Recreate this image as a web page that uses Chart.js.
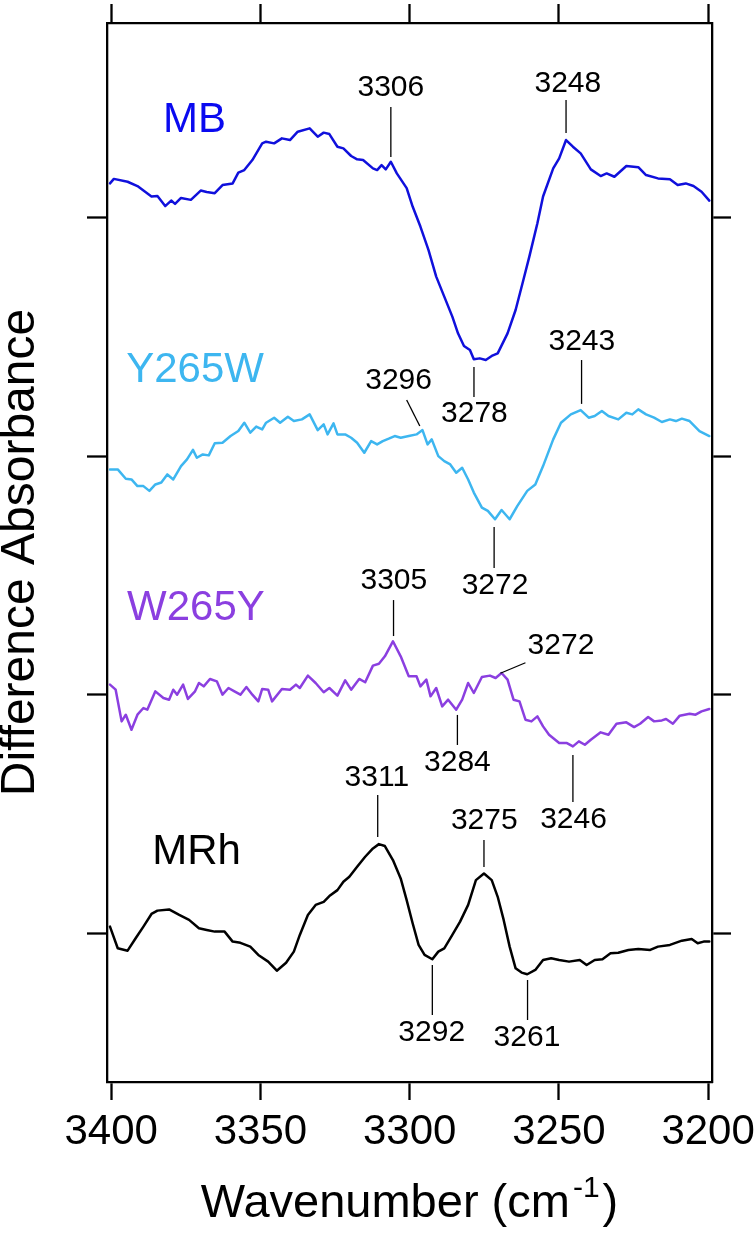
<!DOCTYPE html>
<html><head><meta charset="utf-8">
<script src="https://cdn.jsdelivr.net/npm/chart.js@4.4.1/dist/chart.umd.min.js"></script>
<style>html,body{margin:0;padding:0;background:#fff}canvas{display:block}</style>
</head><body>
<canvas id="c" width="755" height="1236"></canvas>
<script>
// ---------- data (wavenumber cm-1, difference absorbance, arbitrary units) ----------
const xTickValues = [3400, 3350, 3300, 3250, 3200];
const yTickValues = [0, 1, 2, 3];
const seriesNames = ['MB', 'Y265W', 'W265Y', 'MRh'];
const seriesOffsets = [3, 2, 1, 0];

const MB = [[3400.4,0.145],[3399.1,0.164],[3394.5,0.152],[3391.2,0.134],[3386.5,0.090],[3384.5,0.092],[3381.9,0.050],[3379.9,0.073],[3378.6,0.059],[3376.6,0.084],[3373.3,0.076],[3370.0,0.115],[3368.0,0.109],[3365.3,0.104],[3362.7,0.138],[3359.3,0.145],[3357.4,0.190],[3355.4,0.201],[3352.7,0.243],[3349.4,0.313],[3348.1,0.320],[3345.4,0.313],[3342.8,0.334],[3340.1,0.327],[3337.5,0.362],[3333.5,0.376],[3330.8,0.341],[3328.8,0.358],[3326.9,0.352],[3324.2,0.299],[3322.2,0.292],[3319.6,0.260],[3317.6,0.246],[3315.6,0.243],[3312.3,0.208],[3310.9,0.201],[3309.4,0.222],[3308.0,0.204],[3306.3,0.236],[3304.3,0.187],[3301.0,0.125],[3299.0,0.048],[3296.4,-0.036],[3293.7,-0.134],[3291.1,-0.246],[3288.4,-0.330],[3285.7,-0.414],[3283.8,-0.484],[3281.8,-0.537],[3279.8,-0.554],[3278.5,-0.593],[3276.5,-0.589],[3274.5,-0.596],[3272.5,-0.579],[3270.5,-0.568],[3267.2,-0.484],[3264.5,-0.386],[3261.9,-0.260],[3259.9,-0.162],[3257.2,-0.022],[3255.3,0.090],[3251.9,0.208],[3249.9,0.250],[3247.6,0.327],[3245.3,0.299],[3242.7,0.271],[3239.3,0.204],[3236.0,0.176],[3234.0,0.187],[3231.4,0.173],[3227.4,0.218],[3223.4,0.213],[3220.8,0.180],[3216.8,0.166],[3212.8,0.162],[3210.2,0.138],[3207.5,0.145],[3204.9,0.134],[3202.2,0.110],[3199.6,0.073]];

const Y265W = [[3400.4,-0.055],[3397.8,-0.055],[3395.1,-0.094],[3393.2,-0.097],[3391.2,-0.125],[3389.2,-0.125],[3387.2,-0.145],[3385.2,-0.118],[3383.2,-0.110],[3381.2,-0.076],[3379.2,-0.097],[3376.6,-0.041],[3374.6,-0.013],[3372.6,0.027],[3371.3,-0.006],[3369.3,0.008],[3367.3,0.004],[3365.3,0.055],[3362.7,0.057],[3360.0,0.085],[3357.4,0.106],[3355.4,0.141],[3353.4,0.099],[3351.4,0.125],[3349.4,0.113],[3348.1,0.141],[3345.4,0.162],[3343.4,0.141],[3340.8,0.166],[3338.8,0.148],[3336.1,0.155],[3333.5,0.176],[3330.8,0.110],[3328.8,0.134],[3327.5,0.092],[3325.5,0.138],[3324.2,0.092],[3321.6,0.092],[3319.6,0.078],[3317.6,0.057],[3315.2,0.015],[3312.9,0.064],[3310.9,0.050],[3309.0,0.064],[3307.0,0.074],[3305.0,0.085],[3303.0,0.078],[3300.3,0.085],[3297.7,0.092],[3295.7,0.110],[3294.0,0.050],[3292.6,0.071],[3290.4,0.001],[3288.4,-0.020],[3286.4,-0.034],[3284.4,-0.069],[3282.4,-0.048],[3280.4,-0.097],[3278.5,-0.152],[3275.8,-0.215],[3273.8,-0.229],[3271.4,-0.264],[3269.2,-0.225],[3266.5,-0.264],[3263.9,-0.208],[3260.6,-0.145],[3257.9,-0.118],[3255.3,-0.041],[3251.9,0.071],[3249.3,0.141],[3246.0,0.176],[3242.7,0.194],[3240.0,0.162],[3238.0,0.169],[3235.6,0.190],[3233.4,0.169],[3230.1,0.155],[3227.4,0.183],[3225.4,0.176],[3223.4,0.197],[3220.8,0.176],[3218.1,0.162],[3215.5,0.144],[3212.8,0.155],[3210.8,0.148],[3208.8,0.158],[3206.2,0.148],[3202.9,0.106],[3199.6,0.085]];

const W265Y = [[3400.4,0.042],[3398.5,0.021],[3396.5,-0.112],[3395.1,-0.084],[3393.2,-0.147],[3391.2,-0.084],[3389.2,-0.056],[3387.9,-0.063],[3385.2,0.014],[3382.5,-0.014],[3380.6,-0.021],[3379.2,0.021],[3377.9,0.000],[3375.9,0.042],[3374.3,-0.018],[3371.9,0.014],[3370.6,0.049],[3369.0,0.035],[3366.9,0.066],[3364.6,0.056],[3362.7,0.000],[3360.7,0.028],[3358.7,0.014],[3356.7,0.000],[3354.7,0.032],[3352.7,0.000],[3350.7,-0.028],[3349.4,0.024],[3347.4,0.021],[3346.1,-0.028],[3342.8,0.024],[3340.1,0.021],[3338.1,0.042],[3336.8,0.028],[3334.1,0.080],[3331.5,0.049],[3328.8,0.010],[3326.9,0.028],[3324.2,-0.004],[3321.6,0.060],[3319.6,0.021],[3316.9,0.066],[3314.9,0.052],[3312.3,0.122],[3310.3,0.130],[3308.3,0.161],[3305.6,0.224],[3303.0,0.161],[3300.3,0.077],[3297.7,0.077],[3296.4,0.035],[3294.4,0.063],[3293.0,-0.007],[3291.1,0.028],[3289.1,-0.049],[3287.1,-0.021],[3284.4,-0.063],[3282.4,-0.021],[3280.4,0.049],[3278.5,0.007],[3275.8,0.074],[3273.1,0.080],[3271.2,0.070],[3269.2,0.091],[3267.2,0.063],[3265.2,-0.021],[3263.2,-0.028],[3261.2,-0.105],[3259.2,-0.112],[3257.2,-0.091],[3255.3,-0.133],[3253.3,-0.168],[3249.9,-0.203],[3247.3,-0.203],[3245.3,-0.217],[3243.3,-0.196],[3241.3,-0.210],[3239.3,-0.189],[3236.0,-0.158],[3233.4,-0.168],[3230.7,-0.122],[3227.4,-0.116],[3224.8,-0.136],[3222.8,-0.122],[3220.1,-0.094],[3218.1,-0.112],[3215.5,-0.108],[3214.1,-0.102],[3211.8,-0.122],[3209.5,-0.088],[3206.2,-0.080],[3204.2,-0.084],[3202.2,-0.070],[3199.6,-0.060]];

const MRh = [[3400.4,0.027],[3397.8,-0.064],[3394.5,-0.074],[3391.8,-0.022],[3389.2,0.027],[3386.5,0.080],[3384.5,0.094],[3380.6,0.099],[3377.2,0.076],[3373.9,0.055],[3370.6,0.020],[3368.0,0.013],[3365.3,0.006],[3362.0,0.006],[3359.3,-0.036],[3356.7,-0.041],[3353.4,-0.057],[3350.7,-0.092],[3347.4,-0.120],[3344.5,-0.158],[3341.4,-0.125],[3338.8,-0.078],[3336.8,-0.008],[3334.1,0.076],[3331.5,0.118],[3328.8,0.131],[3326.9,0.155],[3324.2,0.180],[3322.2,0.215],[3320.2,0.236],[3317.6,0.278],[3314.9,0.320],[3312.3,0.355],[3310.3,0.373],[3308.3,0.365],[3305.6,0.306],[3303.0,0.229],[3301.0,0.138],[3299.0,0.041],[3297.0,-0.050],[3295.0,-0.092],[3292.4,-0.110],[3290.4,-0.078],[3288.4,-0.064],[3285.7,-0.008],[3283.1,0.048],[3280.4,0.118],[3277.8,0.222],[3275.1,0.250],[3272.5,0.222],[3270.5,0.152],[3268.5,0.055],[3266.5,-0.057],[3264.5,-0.148],[3262.5,-0.166],[3260.6,-0.173],[3257.9,-0.155],[3255.3,-0.113],[3252.6,-0.106],[3249.9,-0.113],[3246.6,-0.120],[3243.0,-0.113],[3240.7,-0.134],[3238.0,-0.113],[3235.4,-0.110],[3232.7,-0.085],[3230.1,-0.083],[3226.7,-0.071],[3223.4,-0.067],[3219.4,-0.071],[3216.8,-0.057],[3212.8,-0.050],[3208.8,-0.032],[3205.5,-0.025],[3203.5,-0.043],[3201.5,-0.036],[3199.6,-0.036]];

const seriesData = [MB, Y265W, W265Y, MRh];
const seriesColors = ['#1010DC', '#3DB6F0', '#8B3FE0', '#000000'];
const labelColors  = ['#0A0AF0', '#3DB6F0', '#8B3FE0', '#000000'];

// series name labels: [wavenumber centre, y value]
const seriesLabelPos = [[3372.1, 3.411], [3371.9, 2.361], [3371.6, 1.363], [3371.4, 0.338]];

// peak annotations: text, text centre (wn, y), leader line (wn1, y1, wn2, y2)
const peakLabels = ['3306', '3248', '3278', '3243', '3296', '3272', '3305', '3272', '3284', '3246', '3311', '3275', '3292', '3261'];
const peakTextPos = [[3306.3,3.548],[3247.0,3.562],[3278.3,2.178],[3242.3,2.480],[3303.7,2.316],[3271.4,1.456],[3305.3,1.477],[3249.3,1.204],[3284.0,0.713],[3245.1,0.474],[3311.0,0.650],[3275.0,0.470],[3292.6,-0.420],[3260.7,-0.441]];
const peakLeaders = [[3306.3,3.466,3306.3,3.256],[3247.6,3.495,3247.6,3.356],[3278.45,2.375,3278.45,2.249],[3242.4,2.404,3242.4,2.220],[3301.0,2.236,3296.6,2.127],[3271.7,1.704,3271.7,1.531],[3305.4,1.397,3305.4,1.246],[3261.2,1.134,3269.6,1.090],[3284.0,0.915,3284.0,0.789],[3245.3,0.747,3245.3,0.550],[3310.7,0.579,3310.7,0.403],[3275.1,0.390,3275.1,0.277],[3292.4,-0.134,3292.4,-0.344],[3260.5,-0.197,3260.5,-0.365]];

const xTitleMain = 'Wavenumber (cm';
const xTitleSup = '-1';
const xTitleEnd = ')';
const yTitle = 'Difference Absorbance';

const X_MIN = 3198.7, X_MAX = 3401.4;
const Y_MIN = -0.625, Y_MAX = 3.818;
const FONT = '"Liberation Sans", Arial, Helvetica, sans-serif';

// ---------- chart ----------
const datasets = seriesData.map((s, i) => ({
  label: seriesNames[i],
  data: s.map(p => ({x: p[0], y: p[1] + seriesOffsets[i]})),
  borderColor: seriesColors[i],
  borderWidth: 2.5,
  borderJoinStyle: 'round',
  borderCapStyle: 'round',
  pointRadius: 0,
  tension: 0,
  fill: false,
  xAxisID: 'x',
  yAxisID: 'y'
}));

function setTicks(vals) { return s => { s.ticks = vals.map(v => ({value: v})); }; }
const gridOpts = len => ({display: true, drawOnChartArea: false, drawTicks: true, tickLength: len, tickWidth: 2.3, tickColor: '#000'});
const borderOpts = {display: true, color: '#000', width: 2.3};
function fixSize(prop, val) {
  return s => { s[prop] = val; s.paddingLeft = 0; s.paddingRight = 0; s.paddingTop = 0; s.paddingBottom = 0; };
}

const overlay = {
  id: 'overlay',
  afterDatasetsDraw(chart) {
    const ctx = chart.ctx, xs = chart.scales.x, ys = chart.scales.y;
    ctx.save();
    // leader lines
    ctx.strokeStyle = '#000';
    ctx.lineWidth = 1.3;
    peakLeaders.forEach(l => {
      ctx.beginPath();
      ctx.moveTo(xs.getPixelForValue(l[0]), ys.getPixelForValue(l[1]));
      ctx.lineTo(xs.getPixelForValue(l[2]), ys.getPixelForValue(l[3]));
      ctx.stroke();
    });
    // peak labels
    ctx.fillStyle = '#000';
    ctx.font = '30px ' + FONT;
    ctx.textAlign = 'center';
    ctx.textBaseline = 'middle';
    peakLabels.forEach((t, i) => {
      ctx.fillText(t, xs.getPixelForValue(peakTextPos[i][0]), ys.getPixelForValue(peakTextPos[i][1]));
    });
    // series names
    ctx.font = '42px ' + FONT;
    seriesNames.forEach((n, i) => {
      ctx.fillStyle = labelColors[i];
      ctx.fillText(n, xs.getPixelForValue(seriesLabelPos[i][0]), ys.getPixelForValue(seriesLabelPos[i][1]));
    });
    // x axis title with superscript
    const fMain = '47px ' + FONT, fSup = '30px ' + FONT;
    ctx.font = fMain; const w1 = ctx.measureText(xTitleMain).width; const w3 = ctx.measureText(xTitleEnd).width;
    ctx.font = fSup; const w2 = ctx.measureText(xTitleSup).width;
    const gap = 3;
    const total = w1 + gap + w2 + gap + w3;
    const cx = (chart.chartArea.left + chart.chartArea.right) / 2;
    let x0 = cx - total / 2;
    const base = xs.bottom - 19;
    ctx.fillStyle = '#000';
    ctx.textAlign = 'left';
    ctx.textBaseline = 'alphabetic';
    ctx.font = fMain; ctx.fillText(xTitleMain, x0, base);
    ctx.font = fSup; ctx.fillText(xTitleSup, x0 + w1 + gap, base - 20);
    ctx.font = fMain; ctx.fillText(xTitleEnd, x0 + w1 + gap + w2 + gap, base);
    ctx.restore();
  }
};

new Chart(document.getElementById('c'), {
  type: 'line',
  data: {datasets},
  options: {
    responsive: false,
    animation: false,
    devicePixelRatio: 1,
    layout: {padding: 0},
    plugins: {legend: {display: false}, tooltip: {enabled: false}},
    scales: {
      x: {
        type: 'linear', position: 'bottom', reverse: true, min: X_MIN, max: X_MAX,
        afterBuildTicks: setTicks(xTickValues),
        afterFit: fixSize('height', 154),
        ticks: {display: true, color: '#000', padding: 11, maxRotation: 0, autoSkip: false,
                font: {family: FONT, size: 42, lineHeight: 1}, callback: v => String(v)},
        grid: gridOpts(18), border: borderOpts, title: {display: false}
      },
      xTop: {
        type: 'linear', position: 'top', reverse: true, min: X_MIN, max: X_MAX,
        afterBuildTicks: setTicks(xTickValues),
        afterFit: fixSize('height', 23),
        ticks: {display: false}, grid: gridOpts(19), border: borderOpts
      },
      y: {
        type: 'linear', position: 'left', min: Y_MIN, max: Y_MAX,
        afterBuildTicks: setTicks(yTickValues),
        afterFit: fixSize('width', 107),
        ticks: {display: false}, grid: gridOpts(20), border: borderOpts,
        title: {display: true, text: yTitle, color: '#000', padding: 0,
                font: {family: FONT, size: 48, lineHeight: 0.875}}
      },
      y2: {
        type: 'linear', position: 'right', min: Y_MIN, max: Y_MAX,
        afterBuildTicks: setTicks(yTickValues),
        afterFit: fixSize('width', 43),
        ticks: {display: false}, grid: gridOpts(19), border: borderOpts
      }
    }
  },
  plugins: [overlay]
});
</script>
</body></html>
